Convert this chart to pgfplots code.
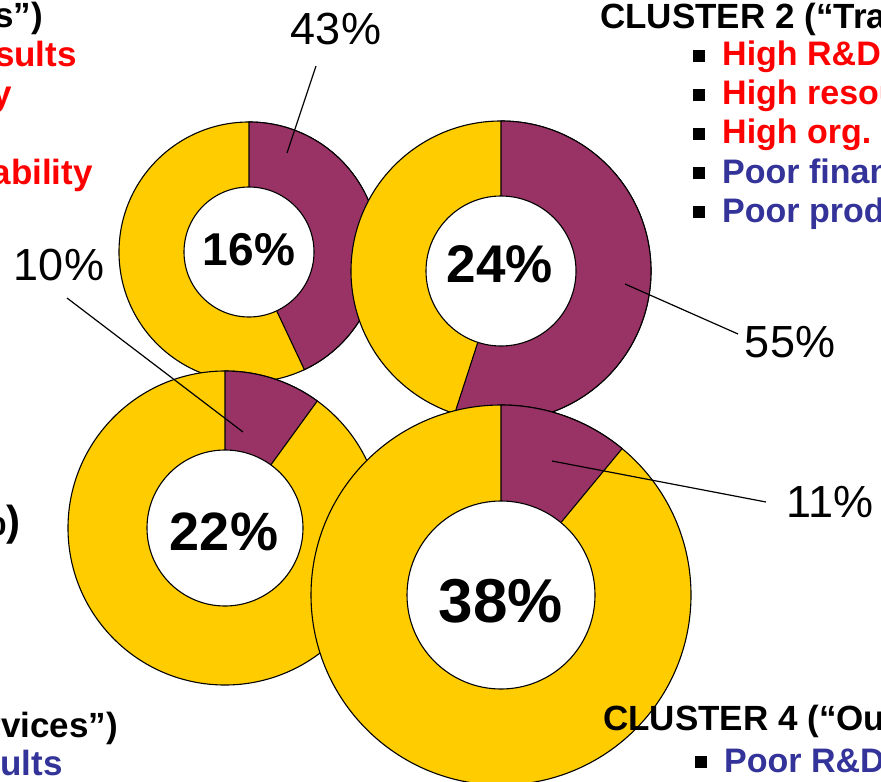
\documentclass[border=0pt]{standalone}
\usepackage{pgfplots}
\pgfplotsset{compat=1.18}
\usepackage{pgfplotstable}
\usepackage{fontspec}
\setmainfont{Liberation Sans}
\definecolor{plum}{HTML}{993366}
\definecolor{gold}{HTML}{FFCC00}
\definecolor{cred}{HTML}{FF0000}
\definecolor{cblue}{HTML}{333399}
\pgfplotstableread{
cx cy R r share
249 252 130 65 43
501 271 150 75 55
225 528 157 78 10
501 595 190 94 11
}\donuts
\newcommand\fs[1]{\fontsize{#1bp}{#1bp}\selectfont}
\newcommand\bul{\textcolor{black}{\raisebox{4bp}{\rule{12bp}{12bp}}}\hspace{17bp}}
\begin{document}
\begin{tikzpicture}
\path[use as bounding box] (0,0) rectangle (881bp,782bp);
\begin{axis}[at={(0,0)},anchor=south west,scale only axis,width=881bp,height=782bp,
  xmin=0,xmax=881,ymin=0,ymax=782,y dir=reverse,hide axis,clip=true]
\pgfplotsinvokeforeach{0,1,2,3}{
  \pgfplotstablegetelem{#1}{cx}\of\donuts \edef\cx{\pgfplotsretval}
  \pgfplotstablegetelem{#1}{cy}\of\donuts \edef\cy{\pgfplotsretval}
  \pgfplotstablegetelem{#1}{R}\of\donuts \edef\RR{\pgfplotsretval}
  \pgfplotstablegetelem{#1}{r}\of\donuts \edef\rr{\pgfplotsretval}
  \pgfplotstablegetelem{#1}{share}\of\donuts \pgfmathsetmacro\ee{90-3.6*\pgfplotsretval}
  \edef\doit{%
    \noexpand\draw[fill=gold,draw=black,line width=1.1bp] (axis cs:\cx,\cy) circle[radius=\RR bp];
    \noexpand\draw[fill=plum,draw=black,line width=1.1bp] (axis cs:\cx,\cy) -- ++(90:\RR bp) arc[start angle=90,end angle=\ee,radius=\RR bp] -- cycle;
    \noexpand\draw[fill=white,draw=black,line width=1.1bp] (axis cs:\cx,\cy) circle[radius=\rr bp];
  }\doit
}
% leader lines
\draw[line width=1.2bp] (axis cs:316,66) -- (axis cs:287,153);
\draw[line width=1.2bp] (axis cs:67,298) -- (axis cs:243,432);
\draw[line width=1.2bp] (axis cs:625,284) -- (axis cs:738,334);
\draw[line width=1.2bp] (axis cs:552,461) -- (axis cs:766,502);
% centre labels
\node[font=\bfseries\fs{46},anchor=base,inner sep=0] at (axis cs:249,265) {16\%};
\node[font=\bfseries\fs{53},anchor=base,inner sep=0] at (axis cs:500,282) {24\%};
\node[font=\bfseries\fs{54},anchor=base,inner sep=0] at (axis cs:224,550) {22\%};
\node[font=\bfseries\fs{62},anchor=base,inner sep=0] at (axis cs:501,622) {38\%};
% outer labels
\node[font=\fs{45},anchor=base,inner sep=0] at (axis cs:336,45) {43\%};
\node[font=\fs{45},anchor=base,inner sep=0] at (axis cs:59,280) {10\%};
\node[font=\fs{45},anchor=base,inner sep=0] at (axis cs:790,357) {55\%};
\node[font=\fs{45},anchor=base,inner sep=0] at (axis cs:830,517) {11\%};
% cluster 1 (cropped at left)
\node[font=\bfseries\fs{35},anchor=base east,inner sep=0] at (axis cs:43,28) {CLUSTER 1 (“Innovators”)};
\node[font=\bfseries\fs{35},text=cred,anchor=base east,inner sep=0] at (axis cs:77,67) {Good R\&D results};
\node[font=\bfseries\fs{35},text=cred,anchor=base east,inner sep=0] at (axis cs:12,106) {High productivity};
\node[font=\bfseries\fs{35},text=cred,anchor=base east,inner sep=0] at (axis cs:93,184) {High profitability};
% cluster 2
\node[font=\bfseries\fs{35},anchor=base west,inner sep=0] at (axis cs:600,29) {CLUSTER 2 (“Traditional”)};
\node[font=\bfseries\fs{34},text=cred,anchor=base west,inner sep=0] at (axis cs:693,66) {\bul High R\&D intensity};
\node[font=\bfseries\fs{34},text=cred,anchor=base west,inner sep=0] at (axis cs:693,105) {\bul High resources};
\node[font=\bfseries\fs{34},text=cred,anchor=base west,inner sep=0] at (axis cs:693,144) {\bul High org. capability};
\node[font=\bfseries\fs{34},text=cblue,anchor=base west,inner sep=0] at (axis cs:693,183) {\bul Poor financial results};
\node[font=\bfseries\fs{34},text=cblue,anchor=base west,inner sep=0] at (axis cs:693,222) {\bul Poor productivity};
% cluster 3 (cropped at left)
\node[font=\bfseries\fs{42},anchor=base east,inner sep=0] at (axis cs:21,535) {(22\%)};
\node[font=\bfseries\fs{35},anchor=base east,inner sep=0] at (axis cs:118,737) {CLUSTER 3 (“Services”)};
\node[font=\bfseries\fs{35},text=cblue,anchor=base east,inner sep=0] at (axis cs:63,775) {Poor results};
% cluster 4
\node[font=\bfseries\fs{35},anchor=base west,inner sep=0] at (axis cs:603,730) {CLUSTER 4 (“Outsiders”)};
\node[font=\bfseries\fs{34},text=cblue,anchor=base west,inner sep=0] at (axis cs:695,772) {\bul Poor R\&D results};
\end{axis}
\end{tikzpicture}
\end{document}
